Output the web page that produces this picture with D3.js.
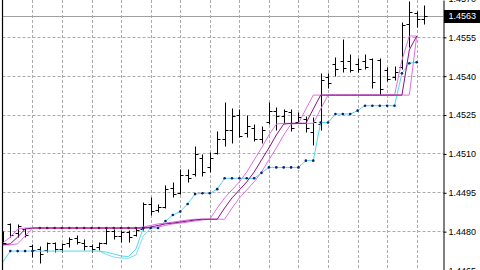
<!DOCTYPE html>
<html>
<head>
<meta charset="utf-8">
<script src="https://cdn.jsdelivr.net/npm/d3@7"></script>
<style>
  body { margin: 0; background: #fff; }
  svg { display: block; }
  text { font-family: "Liberation Sans", Arial, sans-serif; font-size: 9px; }
</style>
</head>
<body>
<div id="chart"></div>
<script>
// OHLC, one entry per bar (oldest first)
const opens = [
  1.44795, 1.44826, 1.44791, 1.44810, 1.44741, 1.44733, 1.44729, 1.44753, 1.44733, 1.44753,
  1.44772, 1.44756, 1.44741, 1.44737, 1.44756, 1.44799, 1.44783, 1.44795, 1.44787, 1.44810,
  1.44903, 1.44880, 1.44895, 1.44965, 1.44949, 1.45015, 1.45019, 1.45084, 1.45046, 1.45100,
  1.45154, 1.45192, 1.45250, 1.45177, 1.45200, 1.45154, 1.45223, 1.45262, 1.45243, 1.45258,
  1.45223, 1.45231, 1.45181, 1.45212, 1.45393, 1.45447, 1.45455, 1.45455, 1.45447, 1.45455,
  1.45466, 1.45462, 1.45420, 1.45393, 1.45432, 1.45598, 1.45640, 1.45617
]
const highs = [
  1.44799, 1.44833, 1.44826, 1.44814, 1.44749, 1.44741, 1.44760, 1.44760, 1.44756, 1.44776,
  1.44787, 1.44768, 1.44749, 1.44760, 1.44814, 1.44810, 1.44806, 1.44806, 1.44814, 1.44911,
  1.44930, 1.44903, 1.44980, 1.44988, 1.45038, 1.45038, 1.45127, 1.45096, 1.45104, 1.45185,
  1.45300, 1.45277, 1.45270, 1.45250, 1.45212, 1.45204, 1.45300, 1.45281, 1.45270, 1.45270,
  1.45258, 1.45243, 1.45239, 1.45412, 1.45412, 1.45474, 1.45540, 1.45482, 1.45470, 1.45482,
  1.45470, 1.45470, 1.45435, 1.45439, 1.45609, 1.45690, 1.45648, 1.45671
]
const lows = [
  1.44749, 1.44779, 1.44779, 1.44779, 1.44702, 1.44679, 1.44721, 1.44721, 1.44721, 1.44737,
  1.44749, 1.44729, 1.44721, 1.44729, 1.44749, 1.44768, 1.44760, 1.44760, 1.44783, 1.44806,
  1.44864, 1.44872, 1.44891, 1.44930, 1.44945, 1.44988, 1.45011, 1.45011, 1.45030, 1.45096,
  1.45127, 1.45142, 1.45165, 1.45165, 1.45146, 1.45142, 1.45212, 1.45192, 1.45219, 1.45185,
  1.45219, 1.45181, 1.45134, 1.45192, 1.45354, 1.45397, 1.45416, 1.45416, 1.45416, 1.45424,
  1.45354, 1.45327, 1.45378, 1.45385, 1.45424, 1.45509, 1.45586, 1.45598
]
const closes = [
  1.44756, 1.44787, 1.44818, 1.44787, 1.44729, 1.44710, 1.44753, 1.44733, 1.44749, 1.44768,
  1.44760, 1.44741, 1.44733, 1.44753, 1.44799, 1.44783, 1.44795, 1.44776, 1.44806, 1.44903,
  1.44876, 1.44895, 1.44961, 1.44945, 1.45015, 1.45007, 1.45096, 1.45030, 1.45084, 1.45154,
  1.45192, 1.45243, 1.45169, 1.45204, 1.45154, 1.45192, 1.45262, 1.45243, 1.45262, 1.45200,
  1.45239, 1.45200, 1.45223, 1.45385, 1.45370, 1.45424, 1.45428, 1.45420, 1.45424, 1.45435,
  1.45374, 1.45347, 1.45389, 1.45416, 1.45594, 1.45644, 1.45617, 1.45630
]

// lower (cyan) stop lines
const cyanStop = [
  1.44683, 1.44725, 1.44725, 1.44725, 1.44725, 1.44725, 1.44725, 1.44725, 1.44725, 1.44725,
  1.44725, 1.44725, 1.44725, 1.44725, 1.44721, 1.44714, 1.44706, 1.44704, 1.44733, 1.44814,
  1.44814, 1.44814, 1.44841, 1.44864, 1.44878, 1.44907, 1.44945, 1.44948, 1.44948, 1.44964,
  1.45006, 1.45006, 1.45006, 1.45006, 1.45006, 1.45027, 1.45048, 1.45048, 1.45048, 1.45048,
  1.45048, 1.45074, 1.45074, 1.45221, 1.45221, 1.45254, 1.45254, 1.45254, 1.45267, 1.45286,
  1.45286, 1.45286, 1.45286, 1.45286, 1.45411, 1.45450, 1.45454, null
]
const cyanAlt = [
  null, null, null, null, null, null, null, null, null, null,
  null, null, null, 1.44725, 1.44712, 1.44702, 1.44698, 1.44697, 1.44710, 1.44783,
  1.44814, null, null, null, null, null, null, null, null, null,
  null, null, null, null, null, null, null, null, null, null,
  null, null, null, null, null, null, null, null, null, null,
  null, null, null, null, null, null, null, null
]

// staggered (magenta) step lines
const magentaA = [
  1.44756, 1.44779, 1.44810, 1.44814, 1.44814, 1.44814, 1.44814, 1.44814, 1.44814, 1.44814,
  1.44814, 1.44814, 1.44814, 1.44814, 1.44814, 1.44814, 1.44814, 1.44814, 1.44814, 1.44818,
  1.44824, 1.44830, 1.44833, 1.44837, 1.44841, 1.44845, 1.44848, 1.44848, 1.44848, 1.44891,
  1.44930, 1.44961, 1.44992, 1.45030, 1.45077, 1.45123, 1.45173, 1.45215, 1.45218, 1.45218,
  1.45218, 1.45273, 1.45327, 1.45327, 1.45327, 1.45327, 1.45327, 1.45327, 1.45327, 1.45327,
  1.45327, 1.45327, 1.45327, 1.45327, 1.45462, 1.45555, 1.45555, null
]
const magentaB = [
  1.44749, 1.44753, 1.44779, 1.44810, 1.44814, 1.44814, 1.44814, 1.44814, 1.44814, 1.44814,
  1.44814, 1.44814, 1.44814, 1.44814, 1.44814, 1.44814, 1.44814, 1.44814, 1.44814, 1.44814,
  1.44818, 1.44824, 1.44830, 1.44833, 1.44837, 1.44841, 1.44845, 1.44848, 1.44848, 1.44848,
  1.44891, 1.44930, 1.44961, 1.44992, 1.45030, 1.45077, 1.45123, 1.45173, 1.45215, 1.45218,
  1.45218, 1.45218, 1.45273, 1.45327, 1.45327, 1.45327, 1.45327, 1.45327, 1.45327, 1.45327,
  1.45327, 1.45327, 1.45327, 1.45327, 1.45327, 1.45501, 1.45555, null
]
const magentaC = [
  1.44749, 1.44749, 1.44753, 1.44783, 1.44814, 1.44814, 1.44814, 1.44814, 1.44814, 1.44814,
  1.44814, 1.44814, 1.44814, 1.44814, 1.44814, 1.44814, 1.44814, 1.44814, 1.44814, 1.44814,
  1.44814, 1.44818, 1.44824, 1.44830, 1.44833, 1.44837, 1.44841, 1.44845, 1.44848, 1.44848,
  1.44848, 1.44891, 1.44930, 1.44961, 1.44992, 1.45030, 1.45077, 1.45123, 1.45173, 1.45215,
  1.45218, 1.45218, 1.45218, 1.45273, 1.45327, 1.45327, 1.45327, 1.45327, 1.45327, 1.45327,
  1.45327, 1.45327, 1.45327, 1.45327, 1.45327, 1.45327, 1.45555, null
]

// signal dots
const upDots = [
  null, 1.44725, 1.44725, 1.44725, 1.44725, null, null, null, null, null,
  null, null, null, null, null, null, null, null, null, 1.44814,
  1.44814, 1.44814, 1.44841, 1.44864, 1.44878, 1.44907, 1.44945, 1.44948, 1.44948, 1.44964,
  1.45006, 1.45006, 1.45006, 1.45006, 1.45006, 1.45027, 1.45048, 1.45048, 1.45048, 1.45048,
  1.45048, 1.45074, 1.45074, 1.45221, 1.45221, 1.45254, 1.45254, 1.45254, 1.45267, 1.45286,
  1.45286, 1.45286, 1.45286, 1.45286, 1.45411, 1.45450, 1.45454, null
]
const downDots = [
  null, null, null, null, null, 1.44814, 1.44814, 1.44814, 1.44814, 1.44814,
  1.44814, 1.44814, 1.44814, 1.44814, 1.44814, 1.44814, 1.44814, 1.44814, 1.44814, null
]

const priceTicks = [1.4570, 1.4555, 1.4540, 1.4525, 1.4510, 1.4495, 1.4480, 1.4465]
const currentPrice = 1.4563

const width = 480
const height = 270
const plotLeft = 2.5
const plotRight = 443.5

const svg = d3.select('#chart')
  .append('svg')
  .attr('width', width)
  .attr('height', height)

svg.append('rect').attr('width', width).attr('height', height).attr('fill', '#fff')

const x = d3.scaleLinear().domain([0, opens.length - 1]).range([2.9, 424.1])
const y = d3.scaleLinear().domain([1.44652, 1.45694]).range([height, 0])
// snap to pixel centres so 1px lines stay crisp
const px = v => Math.round(v) + 0.5
const py = v => Math.floor(y(v)) + 0.5

svg.append('clipPath').attr('id', 'plot')
  .append('rect').attr('x', plotLeft).attr('y', 0)
  .attr('width', plotRight - plotLeft).attr('height', height)

const plot = svg.append('g').attr('clip-path', 'url(#plot)')

// grid
plot.selectAll('.hgrid')
  .data(priceTicks)
  .enter()
  .append('line')
  .attr('x1', plotLeft).attr('x2', plotRight)
  .attr('y1', d => py(d)).attr('y2', d => py(d))
  .attr('stroke', '#ababab')
  .attr('stroke-dasharray', '3,2')

plot.selectAll('.vgrid')
  .data(d3.range(4, opens.length, 4))
  .enter()
  .append('line')
  .attr('x1', d => px(x(d))).attr('x2', d => px(x(d)))
  .attr('y1', 0).attr('y2', height)
  .attr('stroke', '#ababab')
  .attr('stroke-dasharray', '3,2')

// current price line
plot.append('line')
  .attr('x1', plotLeft).attr('x2', plotRight)
  .attr('y1', py(currentPrice)).attr('y2', py(currentPrice))
  .attr('stroke', '#a0a0a0')

// bars
plot.selectAll('.bar')
  .data(opens)
  .enter()
  .append('path')
  .attr('d', (o, i) => {
    const cx = px(x(i))
    return 'M' + cx + ',' + py(highs[i]) + 'V' + py(lows[i]) +
      'M' + (cx - 3) + ',' + py(o) + 'H' + cx +
      'M' + cx + ',' + py(closes[i]) + 'H' + (cx + 3)
  })
  .attr('fill', 'none')
  .attr('stroke', '#000')

const line = d3.line()
  .defined(d => d != null)
  .x((d, i) => x(i))
  .y(d => y(d))

const drawLine = (values, color, w) =>
  plot.append('path')
    .attr('d', line(values))
    .attr('fill', 'none')
    .attr('stroke', color)
    .attr('stroke-width', w)

drawLine(cyanAlt, '#7ddfea', 1)
drawLine(cyanStop, '#55d6e8', 1)
drawLine(magentaA, '#de70e0', 1)
drawLine(magentaC, '#de70e0', 1)
drawLine(magentaB, '#8a0e8a', 1)

const dots = (values, color) =>
  plot.selectAll(null)
    .data(values.map((v, i) => ({ v, i })).filter(d => d.v != null))
    .enter()
    .append('circle')
    .attr('cx', d => x(d.i))
    .attr('cy', d => y(d.v))
    .attr('r', 1.3)
    .attr('fill', color)

dots(upDots, '#0b1f7a')
dots(downDots, '#7a0a2e')

// left border
svg.append('line')
  .attr('x1', 2.5).attr('x2', 2.5)
  .attr('y1', 0).attr('y2', height)
  .attr('stroke', '#000').attr('stroke-width', 1.2)

// price axis
const axis = svg.append('g')
  .attr('transform', 'translate(' + plotRight + ',0)')
  .call(d3.axisRight(y)
    .tickValues(priceTicks)
    .tickFormat(d3.format('.4f'))
    .tickSize(3)
    .tickSizeOuter(0)
    .tickPadding(2))

axis.select('.domain').attr('stroke', '#000')
axis.selectAll('.tick line').attr('stroke', '#000')
axis.selectAll('.tick text')
  .attr('fill', '#000')
  .style('font-family', '"Liberation Sans", Arial, sans-serif')
  .style('font-size', '9px')

// current price label
svg.append('rect')
  .attr('x', plotRight + 0.5).attr('y', py(currentPrice) - 6.5)
  .attr('width', width - plotRight).attr('height', 13)
  .attr('fill', '#000')

svg.append('text')
  .attr('x', plotRight + 5).attr('y', py(currentPrice))
  .attr('dy', '0.32em')
  .attr('fill', '#fff')
  .text(d3.format('.4f')(currentPrice))
</script>
</body>
</html>
